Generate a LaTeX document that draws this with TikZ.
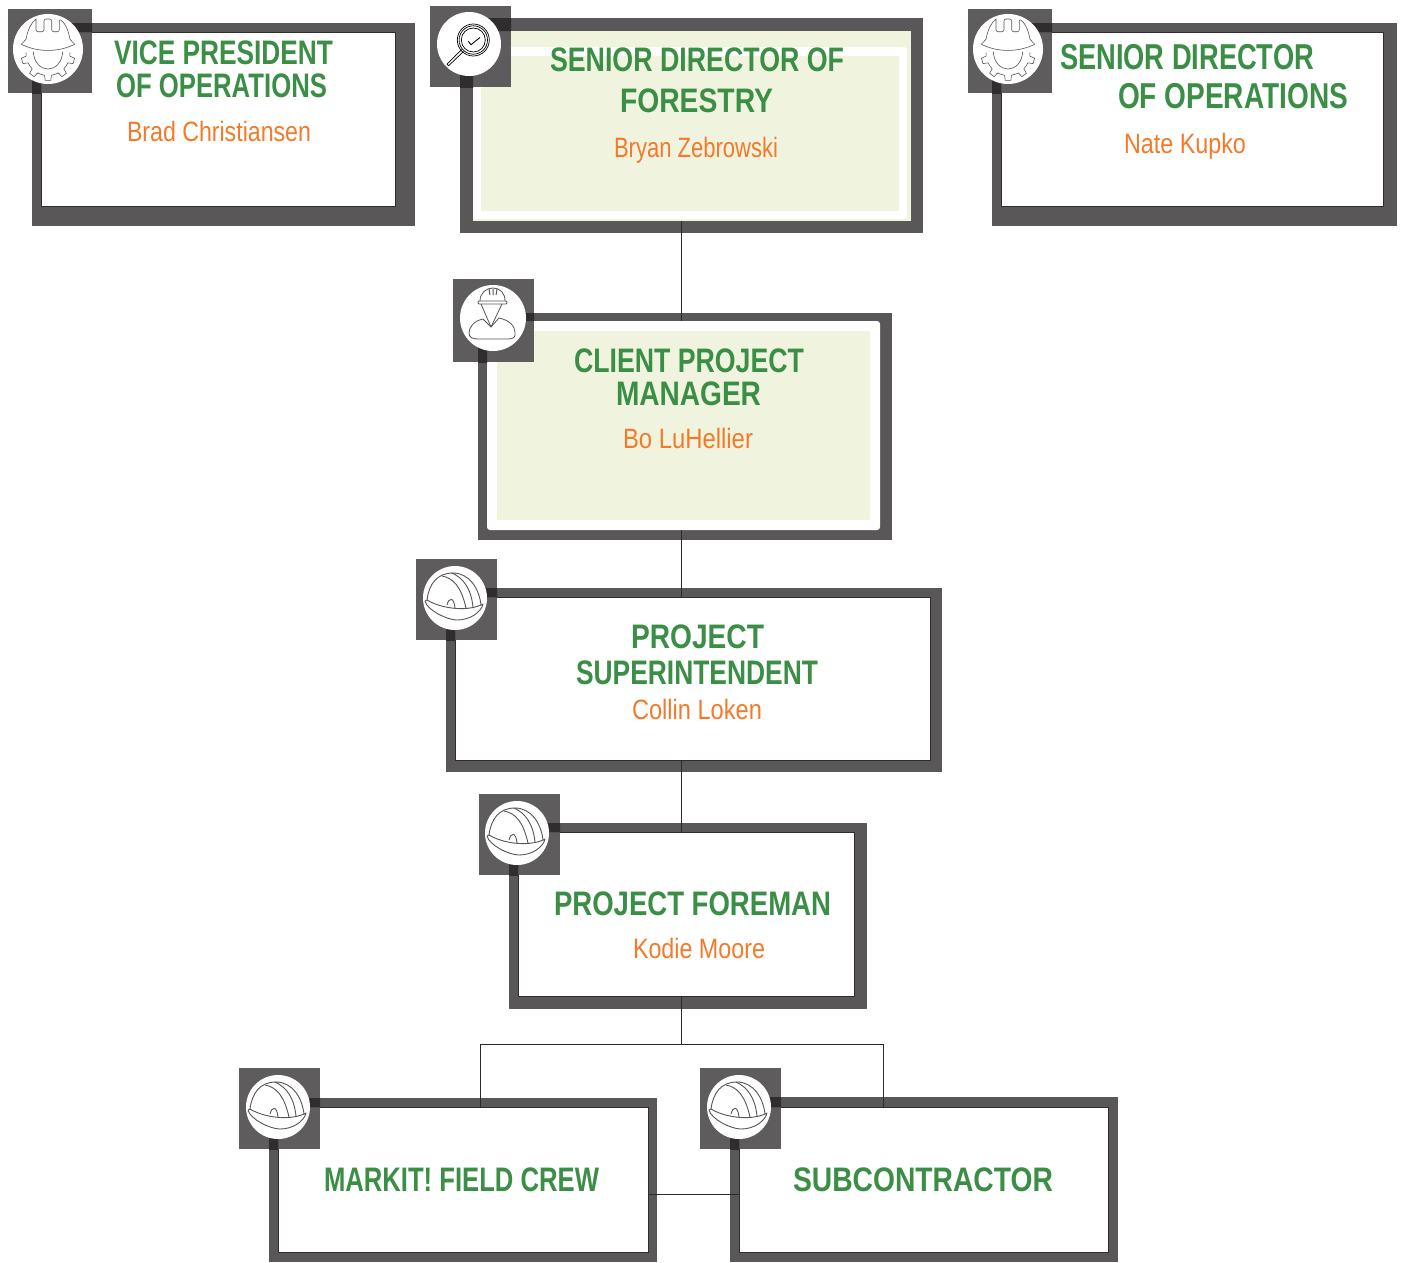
\documentclass[tikz,border=0pt]{standalone}
\usepackage{fontspec}
\usepackage{graphicx}
\setmainfont{Liberation Sans}
\definecolor{frame}{HTML}{595757}
\definecolor{overlap}{HTML}{2F2D2D}
\definecolor{pale}{HTML}{F0F4DF}
\definecolor{titlegreen}{HTML}{3B8E45}
\definecolor{nameorange}{HTML}{F47A2A}
\definecolor{wire}{HTML}{2B2B2B}
\definecolor{iconline}{HTML}{555555}
\tikzset{
  every node/.style={inner sep=0pt,outer sep=0pt},
  outerbox/.style={fill=frame,rectangle},
  innerplain/.style={fill=white,draw=overlap,line width=0.9pt,rectangle},
  innerpale/.style={fill=pale,rectangle},
  innerround/.style={fill=white,rectangle,rounded corners=3pt},
  badgecircle/.style={circle,fill=white},
  wireline/.style={draw=wire,line width=1pt},
  iconstroke/.style={draw=iconline,line width=0.7pt,line join=round},
  titletext/.style={anchor=base west,text=titlegreen},
  nametext/.style={anchor=base west,text=nameorange},
}
% rectangular node named #1 from (#2,#3) to (#4,#5) with style #6
\newcommand{\rectnode}[6]{%
  \pgfmathsetmacro{\rcx}{(#2+#4)/2}\pgfmathsetmacro{\rcy}{(#3+#5)/2}%
  \pgfmathsetmacro{\rw}{#4-#2}\pgfmathsetmacro{\rh}{#5-#3}%
  \node[#6,minimum width=\rw pt,minimum height=\rh pt] (#1) at (\rcx,\rcy) {};}
\newcommand{\ttl}[5][34]{\node[titletext] (#2) at (#3,#4) {\resizebox{#5pt}{\height}{\fontsize{#1}{#1}\selectfont\bfseries\csname txt#2\endcsname}};}
\newcommand{\nam}[4]{\node[nametext] (#1) at (#2,#3) {\resizebox{#4pt}{\height}{\fontsize{28}{28}\selectfont\csname txt#1\endcsname}};}
% badge: name, square x1 y1 x2 y2, card, inner, circle cx cy, r
\newcommand{\badge}[9]{%
  \rectnode{#1}{#2}{#3}{#4}{#5}{fill=frame,fill opacity=.97}%
  \begin{scope}
    \clip (#1.south west) rectangle (#1.north east);
    \fill[overlap,even odd rule] (#6.south west) rectangle (#6.north east) (#7.south west) rectangle (#7.north east);
  \end{scope}
  \node[badgecircle,minimum size=2*#9 pt] (#1c) at (#8) {};}
\newcommand{\helmetgear}[1]{\begin{scope}[shift={(#1.center)}]
  \draw[iconstroke,line width=.6pt] (-22,-9.7) .. controls (-20,-20) and (-17,-26) .. (-12,-30) [rounded corners=2pt] -- (-12,-17.3) -- (-4,-17.3) -- (-4,-30) -- (3.7,-30) -- (3.7,-17.3) -- (11.3,-17.3) -- (11.3,-30) [sharp corners] .. controls (17,-26) and (20,-20) .. (22,-9.7) -- (26.7,-4.7) .. controls (10,3.5) and (-10,3.5) .. (-26.7,-4.7) -- cycle;
  \draw[iconstroke,line width=.6pt] (-14.7,2.7) .. controls (-14,14) and (-7,20) .. (0,20) .. controls (7,20) and (14,14) .. (14.7,2.7);
  \foreach \t in {16,53,90,127,164} {
    \draw[iconstroke,line width=.6pt] ({22*cos(\t-18)},{4.5+22*sin(\t-18)}) -- ({22*cos(\t-9)},{4.5+22*sin(\t-9)}) -- ({27*cos(\t-6)},{4.5+27*sin(\t-6)}) -- ({27*cos(\t+6)},{4.5+27*sin(\t+6)}) -- ({22*cos(\t+9)},{4.5+22*sin(\t+9)}) -- ({22*cos(\t+18)},{4.5+22*sin(\t+18)});
  }
  \end{scope}}
\newcommand{\hardhat}[1]{\begin{scope}[shift={(#1.center)}]
  \draw[iconstroke,line width=.9pt] (-28,2) .. controls (-26,-14) and (-18,-25) .. (-2,-25) .. controls (14,-25) and (24,-10) .. (26,7);
  \draw[iconstroke,line width=.9pt] (-28,2) .. controls (-15,10) and (10,14) .. (26,7);
  \draw[iconstroke,line width=.9pt] (-30,3) .. controls (-28,12) and (-8,22) .. (2,22) .. controls (14,22) and (26,15) .. (28,6) -- (26,7) (-30,3) -- (-28,2);
  \draw[iconstroke,line width=.9pt] (-13,-22) .. controls (-2,-20) and (6,-12) .. (11,10);
  \draw[iconstroke,line width=.9pt] (-3,-25) .. controls (8,-20) and (16,-10) .. (18,9);
  \draw[iconstroke,line width=.9pt] (-8,7) .. controls (-6,-1) and (-1,-1) .. (0,10);
  \end{scope}}
\newcommand{\workericon}[1]{\begin{scope}[shift={(#1.center)}]
  \draw[iconstroke,line width=.8pt] (-13,-17) .. controls (-13,-25) and (-7,-30) .. (0,-30) .. controls (7,-30) and (12,-25) .. (12,-17);
  \draw[iconstroke,line width=.8pt,rounded corners=1pt] (-15,-17) rectangle (14,-14);
  \draw[iconstroke,line width=1pt] (-4,-29) -- (-3,-23) (0,-29) -- (0,-23) (4,-29) -- (3,-23);
  \draw[iconstroke,line width=.8pt] (-12,-14) -- (-2,9) -- (9,-14);
  \draw[iconstroke,line width=.8pt] (-10,1) .. controls (-20,3) and (-24,10) .. (-24,15) .. controls (-24,20) and (-20,21) .. (-14,21) -- (14,21) .. controls (20,21) and (23,20) .. (22,14) .. controls (22,8) and (16,2) .. (6,0);
  \draw[iconstroke,line width=.8pt] (-10,1) -- (-2,9) -- (6,0);
  \end{scope}}
\newcommand{\lensicon}[1]{\begin{scope}[shift={(#1.center)}]
  \draw[black,line width=.7pt] (4.3,-4) circle (16);
  \draw[black,line width=.7pt] (4.3,-4) circle (14.2);
  \draw[black,line width=.7pt] (4.3,-4) circle (12);
  \draw[black,line width=.7pt,line join=round] (-7.5,5.5) -- (-22,20) -- (-20.5,21.8) -- (-5.5,7.5);
  \draw[black,line width=.9pt] (-0.7,-2.7) -- (2,0.7) -- (11,-6.5);
  \end{scope}}
\expandafter\def\csname txtvpa\endcsname{VICE PRESIDENT}
\expandafter\def\csname txtvpb\endcsname{OF OPERATIONS}
\expandafter\def\csname txtvpn\endcsname{Brad Christiansen}
\expandafter\def\csname txtsfa\endcsname{SENIOR DIRECTOR OF}
\expandafter\def\csname txtsfb\endcsname{FORESTRY}
\expandafter\def\csname txtsfn\endcsname{Bryan Zebrowski}
\expandafter\def\csname txtsoa\endcsname{SENIOR DIRECTOR}
\expandafter\def\csname txtsob\endcsname{OF OPERATIONS}
\expandafter\def\csname txtson\endcsname{Nate Kupko}
\expandafter\def\csname txtcpa\endcsname{CLIENT PROJECT}
\expandafter\def\csname txtcpb\endcsname{MANAGER}
\expandafter\def\csname txtcpn\endcsname{Bo LuHellier}
\expandafter\def\csname txtpsa\endcsname{PROJECT}
\expandafter\def\csname txtpsb\endcsname{SUPERINTENDENT}
\expandafter\def\csname txtpsn\endcsname{Collin Loken}
\expandafter\def\csname txtpfa\endcsname{PROJECT FOREMAN}
\expandafter\def\csname txtpfn\endcsname{Kodie Moore}
\expandafter\def\csname txtmfa\endcsname{MARKIT! FIELD CREW}
\expandafter\def\csname txtsca\endcsname{SUBCONTRACTOR}
\begin{document}
\begin{tikzpicture}[x=1pt,y=-1pt]
\useasboundingbox (0,0) rectangle (1402,1262);
% cards
\rectnode{vp}{32}{23}{415}{226}{outerbox}
\rectnode{vpin}{41}{32}{395}{206}{innerplain}
\rectnode{sf}{460}{18}{923}{233}{outerbox}
\rectnode{sfin}{473}{31}{911}{220.7}{innerpale}
\rectnode{sfw}{473}{47}{907}{219}{innerround}
\rectnode{sfp}{481}{56}{899}{211}{innerpale}
\rectnode{so}{992}{23}{1397}{226}{outerbox}
\rectnode{soin}{1001}{32}{1383}{206}{innerplain}
\rectnode{cp}{478}{313}{892}{540}{outerbox}
\rectnode{cpin}{487}{321}{880}{530}{innerround}
\rectnode{cpp}{497}{331}{870}{520}{innerpale}
\rectnode{ps}{446}{588}{942}{772}{outerbox}
\rectnode{psin}{455}{597}{930}{760}{innerplain}
\rectnode{pf}{509}{823}{867}{1009}{outerbox}
\rectnode{pfin}{518}{832}{854.5}{996}{innerplain}
\rectnode{mf}{269}{1098}{657}{1262}{outerbox}
\rectnode{mfin}{278}{1107}{648}{1252}{innerplain}
\rectnode{sc}{730}{1097}{1118}{1262}{outerbox}
\rectnode{scin}{739}{1107}{1108}{1252}{innerplain}
% connectors
\coordinate (trunk) at (681.7,1044.5);
\coordinate (left) at (480.6,1044.5);
\coordinate (right) at (883.6,1044.5);
\coordinate (side) at (700,1194.5);
\draw[wireline] (sfin.south -| trunk) -- (cpin.north -| trunk);
\draw[wireline] (cpin.south -| trunk) -- (psin.north -| trunk);
\draw[wireline] (psin.south -| trunk) -- (pfin.north -| trunk);
\draw[wireline] (pfin.south -| trunk) -- (trunk);
\draw[wireline] (mfin.north -| left) -- (left) -- (right) -- (scin.north -| right);
\draw[wireline] (mfin.east |- side) -- (scin.west |- side);
% badges
\badge{bvp}{8}{9}{92}{93}{vp}{vpin}{48,49}{35}
\helmetgear{bvpc}
\badge{bsf}{430}{6}{511}{87}{sf}{sfin}{469,44}{32}
\lensicon{bsfc}
\badge{bso}{968}{9}{1052}{93}{so}{soin}{1008,49}{35}
\helmetgear{bsoc}
\badge{bcp}{453}{279}{534}{362}{cp}{cpin}{493,318}{33}
\workericon{bcpc}
\badge{bps}{416}{559}{497}{640}{ps}{psin}{455,598}{32}
\hardhat{bpsc}
\badge{bpf}{479}{794}{560}{875}{pf}{pfin}{517,833}{32}
\hardhat{bpfc}
\badge{bmf}{239}{1068}{320}{1149}{mf}{mfin}{278,1107}{32}
\hardhat{bmfc}
\badge{bsc}{700}{1068}{781}{1149}{sc}{scin}{739,1107}{32}
\hardhat{bscc}
% texts
\ttl{vpa}{114}{64}{219}
\ttl{vpb}{116}{97}{211}
\nam{vpn}{127}{141}{184}
\ttl{sfa}{550}{71}{294}
\ttl{sfb}{620}{112}{153}
\nam{sfn}{614}{157}{164}
\ttl[36]{soa}{1060}{69}{254}
\ttl[36]{sob}{1118}{108}{230}
\nam{son}{1124}{153}{122}
\ttl{cpa}{574}{372}{230}
\ttl{cpb}{616}{405}{145}
\nam{cpn}{623}{448}{130}
\ttl{psa}{631}{648}{133}
\ttl{psb}{576}{684}{242}
\nam{psn}{632}{719}{130}
\ttl{pfa}{554}{915}{277}
\nam{pfn}{633}{958.5}{132}
\ttl{mfa}{324}{1191}{275}
\ttl{sca}{793}{1191}{260}
\end{tikzpicture}
\end{document}
